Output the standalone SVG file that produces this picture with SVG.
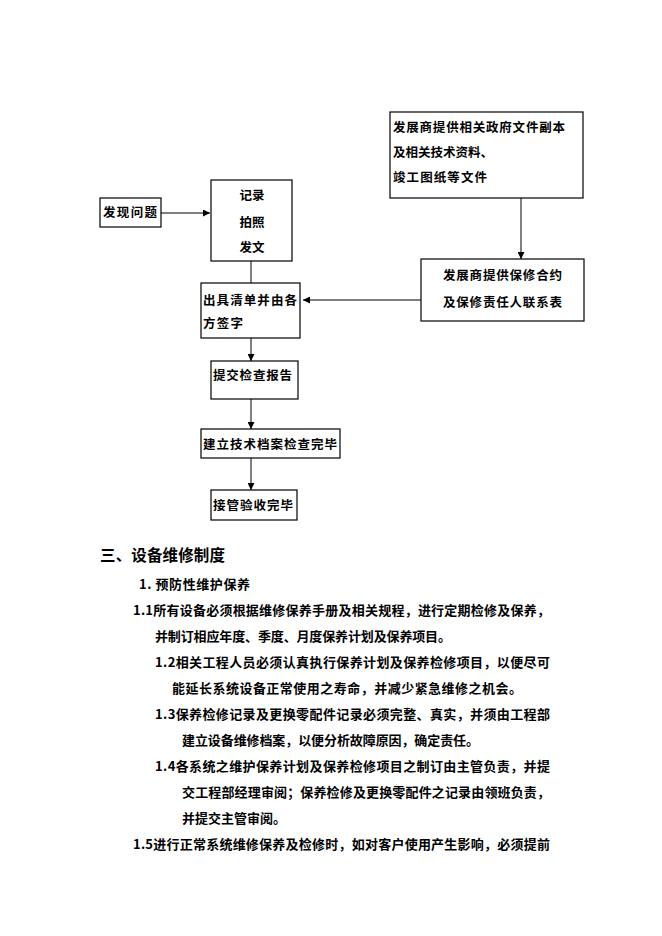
<svg xmlns="http://www.w3.org/2000/svg" width="662" height="936" viewBox="0 0 662 936">
<style>
.box{fill:#fff;stroke:#000;stroke-width:1.2}
.t{font-family:"Noto Sans CJK SC","Noto Sans CJK JP",sans-serif;font-size:12.5px;font-weight:bold;fill:#000}
.p{font-family:"Noto Sans CJK SC","Noto Sans CJK JP",sans-serif;font-size:13px;font-weight:bold;fill:#000}
.h{font-family:"Noto Sans CJK SC","Noto Sans CJK JP",sans-serif;font-size:15.5px;font-weight:bold;fill:#000}
.c{stroke:#000;stroke-width:1;fill:none;marker-end:url(#ah)}
</style>
<defs>
<marker id="ah" viewBox="0 0 8 8" refX="8" refY="4" markerWidth="7" markerHeight="7" markerUnits="userSpaceOnUse" orient="auto">
<path d="M0,0 L8,4 L0,8 Z" fill="#000"/>
</marker>
</defs>
<rect width="662" height="936" fill="#fff"/>
<g id="connectors">
<line class="c" x1="161" y1="213" x2="210" y2="213"/>
<line class="c" x1="251" y1="261" x2="251" y2="290"/>
<line class="c" x1="521" y1="198" x2="521" y2="259"/>
<line class="c" x1="421" y1="300" x2="303" y2="300"/>
<line class="c" x1="251" y1="338" x2="251" y2="361"/>
<line class="c" x1="251" y1="399" x2="251" y2="429"/>
<line class="c" x1="251" y1="458" x2="251" y2="490"/>
</g>
<g id="n-docs">
<rect class="box" x="390" y="112" width="193" height="86"/>
<text class="t" x="393" y="132" textLength="172" lengthAdjust="spacing">发展商提供相关政府文件副本</text>
<text class="t" x="393" y="157" textLength="100" lengthAdjust="spacing">及相关技术资料、</text>
<text class="t" x="393" y="182" textLength="94" lengthAdjust="spacing">竣工图纸等文件</text>
</g>
<g id="n-find">
<rect class="box" x="100" y="198" width="61" height="29"/>
<text class="t" x="103" y="217" textLength="54" lengthAdjust="spacing">发现问题</text>
</g>
<g id="n-record">
<rect class="box" x="211" y="180" width="81" height="81"/>
<text class="t" x="252" y="200" text-anchor="middle">记录</text>
<text class="t" x="252" y="227" text-anchor="middle">拍照</text>
<text class="t" x="252" y="252" text-anchor="middle">发文</text>
</g>
<g id="n-contract">
<rect class="box" x="421" y="259" width="163" height="62"/>
<text class="t" x="443" y="280" textLength="119" lengthAdjust="spacing">发展商提供保修合约</text>
<text class="t" x="443" y="307" textLength="119" lengthAdjust="spacing">及保修责任人联系表</text>
</g>
<g id="n-list">
<rect class="box" x="201" y="283" width="99" height="55"/>
<text class="t" x="203" y="305" textLength="94" lengthAdjust="spacing">出具清单并由各</text>
<text class="t" x="203" y="328" textLength="40" lengthAdjust="spacing">方签字</text>
</g>
<g id="n-report">
<rect class="box" x="211" y="361" width="87" height="38"/>
<text class="t" x="213" y="380" textLength="79" lengthAdjust="spacing">提交检查报告</text>
</g>
<g id="n-archive">
<rect class="box" x="201" y="429" width="139" height="29"/>
<text class="t" x="203" y="449" textLength="134" lengthAdjust="spacing">建立技术档案检查完毕</text>
</g>
<g id="n-accept">
<rect class="box" x="211" y="490" width="86" height="30"/>
<text class="t" x="213" y="510" textLength="80" lengthAdjust="spacing">接管验收完毕</text>
</g>
<g id="body">
<text class="h" x="100" y="561" textLength="125" lengthAdjust="spacing">三、设备维修制度</text>
<text class="p" x="139" y="589" textLength="111" lengthAdjust="spacing">1. 预防性维护保养</text>
<text class="p" x="133" y="615" textLength="417" lengthAdjust="spacing">1.1所有设备必须根据维修保养手册及相关规程，进行定期检修及保养，</text>
<text class="p" x="155" y="641" textLength="296" lengthAdjust="spacing">并制订相应年度、季度、月度保养计划及保养项目。</text>
<text class="p" x="155" y="667" textLength="395" lengthAdjust="spacing">1.2相关工程人员必须认真执行保养计划及保养检修项目，以便尽可</text>
<text class="p" x="172" y="693" textLength="350" lengthAdjust="spacing">能延长系统设备正常使用之寿命，并减少紧急维修之机会。</text>
<text class="p" x="155" y="719" textLength="395" lengthAdjust="spacing">1.3保养检修记录及更换零配件记录必须完整、真实，并须由工程部</text>
<text class="p" x="182" y="745" textLength="297" lengthAdjust="spacing">建立设备维修档案，以便分析故障原因，确定责任。</text>
<text class="p" x="155" y="771" textLength="395" lengthAdjust="spacing">1.4各系统之维护保养计划及保养检修项目之制订由主管负责，并提</text>
<text class="p" x="182" y="797" textLength="368" lengthAdjust="spacing">交工程部经理审阅；保养检修及更换零配件之记录由领班负责，</text>
<text class="p" x="182" y="823" textLength="104" lengthAdjust="spacing">并提交主管审阅。</text>
<text class="p" x="133" y="849" textLength="417" lengthAdjust="spacing">1.5进行正常系统维修保养及检修时，如对客户使用产生影响，必须提前</text>
</g>
</svg>
